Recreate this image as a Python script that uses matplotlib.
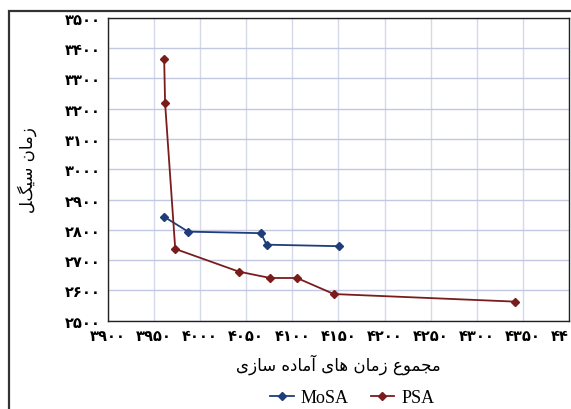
import matplotlib
matplotlib.use("Agg")
import matplotlib.pyplot as plt
from matplotlib.patches import Rectangle
import numpy as np

# data
psa_x = [3961, 3962, 3973, 4042, 4076, 4105, 4145, 4341]
psa_y = [3364, 3218, 2737, 2662, 2641, 2641, 2588, 2563]
mosa_x = [3961, 3987, 4066, 4072, 4151]
mosa_y = [2843, 2794, 2789, 2751, 2746]

x_ticks = np.arange(3900, 4401, 50)
y_ticks = np.arange(2500, 3501, 100)

# Persian text, already shaped and in visual (left-to-right) order
y_label = "\uFEDE\uFB93\uFBFF\uFEB3 \uFEE5\uFE8E\uFEE3\uFEAF"          # زمان سیکل
x_words = ["\uFEE3\uFEA0\uFEE4\uFEEE\uFEC9",                           # مجموع
           "\uFEAF\uFEE3\uFE8E\uFEE5",                                 # زمان
           "\uFEEB\uFE8E\uFBFC",                                       # های
           "\uFE81\uFEE3\uFE8E\uFEA9\uFEE9",                           # آماده
           "\uFEB3\uFE8E\uFEAF\uFBFC"]                                 # سازی
x_label = " ".join(w[::-1] for w in x_words[::-1])

fa_digits = str.maketrans("0123456789", "۰۱۲۳۴۵۶۷۸۹")
def fa(v):
    return str(int(v)).translate(fa_digits)

fig = plt.figure(figsize=(5.71, 4.10), dpi=100)
ax = fig.add_axes([0.189, 0.2154, 0.8075, 0.7386])

# outer frame of the chart object
fig.patches.append(Rectangle((9 / 571, -0.05), 1.0, 1 - 12 / 410 + 0.05,
                             transform=fig.transFigure, fill=False,
                             edgecolor="#333333", linewidth=1.6))

ax.plot(mosa_x, mosa_y, color="#1F3D78", lw=1.3, marker="D", ms=3.8,
        label="MoSA", zorder=3)
ax.plot(psa_x, psa_y, color="#7A1C1C", lw=1.3, marker="D", ms=3.8,
        label="PSA", zorder=3)

ax.set_xlim(3900, 4400)
ax.set_ylim(2500, 3500)
ax.set_xticks(x_ticks)
ax.set_yticks(y_ticks)
ax.set_xticklabels([fa(v) for v in x_ticks], fontsize=10.5, fontweight="bold")
ax.set_yticklabels([fa(v) for v in y_ticks], fontsize=10.5, fontweight="bold")
ax.tick_params(length=0, pad=5)

ax.grid(True, axis="y", color="#C3C8E2", lw=1.0)
ax.grid(True, axis="x", color="#D6D9EA", lw=1.0)
ax.set_axisbelow(True)
for s in ax.spines.values():
    s.set_color("#222222")
    s.set_linewidth(1.0)

ax.set_xlabel(x_label, fontsize=12, labelpad=8)
ax.set_ylabel(y_label, fontsize=12, labelpad=20)

ax.legend(loc="upper center", bbox_to_anchor=(0.53, -0.185), ncol=2,
          frameon=False, prop={"family": "Liberation Serif", "size": 13},
          handlelength=1.3, handletextpad=0.4, columnspacing=1.2,
          borderpad=0.2)

fig.savefig("out.png", dpi=100)
